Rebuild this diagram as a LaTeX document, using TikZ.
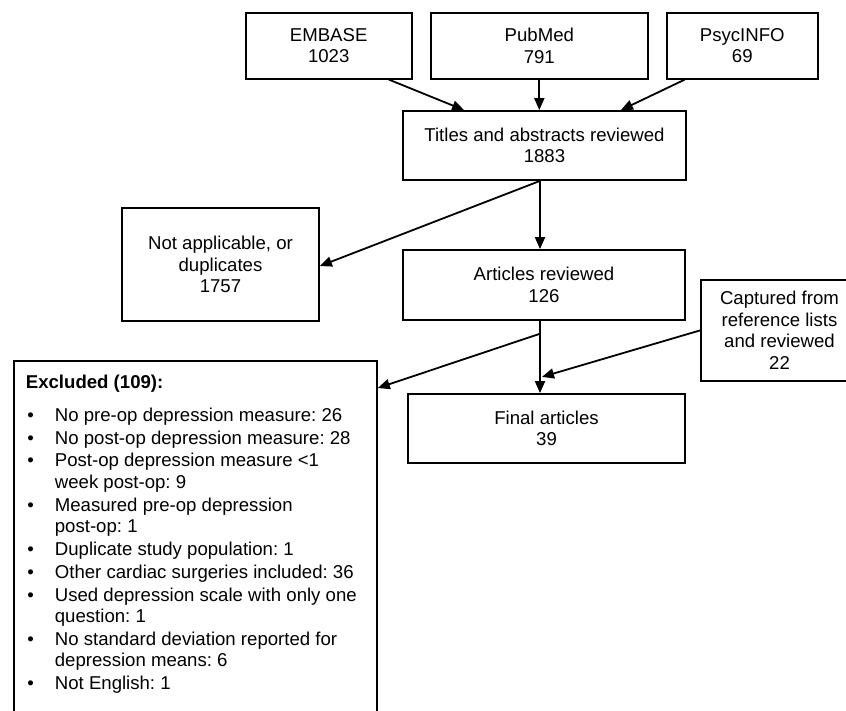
\documentclass[tikz,border=0pt]{standalone}
\usepackage{fontspec}
\setmainfont{Liberation Sans}
\usetikzlibrary{arrows.meta,calc}
\frenchspacing
\newcommand{\xitem}[1]{\par\vspace{1.3pt}\noindent\makebox[29pt][l]{\hspace{1.5pt}•}\mbox{#1}}
\newcommand{\xcont}[1]{\par\noindent\hspace*{29pt}\mbox{#1}}
\begin{document}
\begin{tikzpicture}[x=1pt,y=-1pt,
  box/.style={draw, line width=1.8pt, inner sep=0pt, align=center,
    font=\fontsize{18.6}{21.5}\selectfont},
  arr/.style={line width=1.8pt, -{Triangle[length=12pt,width=10pt]}}]
\useasboundingbox (0,0) rectangle (846,710);
\clip (0,0) rectangle (846,710);
\fill[white] (0,0) rectangle (846,710);
% top sources
\node[box, minimum width=166pt, minimum height=66pt] (emb) at (328.7,45.7) {EMBASE\\1023};
\node[box, minimum width=216.7pt, minimum height=66pt] (pub) at (539.3,45.7) {PubMed\\791};
\node[box, minimum width=151.3pt, minimum height=66pt] (psy) at (742.3,45.7) {PsycINFO\\69};
% titles
\node[box, minimum width=283pt, minimum height=69pt] (tit) at (544.5,145.5) {Titles and abstracts reviewed\\1883};
% not applicable
\node[box, minimum width=197pt, minimum height=113pt] (na) at (220.5,264.5) {Not applicable, or\\duplicates\\1757};
% articles reviewed
\node[box, minimum width=282pt, minimum height=70pt] (art) at (544,285) {Articles reviewed\\126};
% captured
\node[box, minimum width=157pt, minimum height=101pt] (cap) at (779.5,330.4) {Captured from\\reference lists\\and reviewed\\22};
% final
\node[box, minimum width=277pt, minimum height=69pt] (fin) at (546.5,428.5) {Final articles\\39};
% excluded
\node[draw, line width=1.8pt, anchor=north west, inner xsep=12pt, inner ysep=0pt] (excl) at (13,360) {%
\begin{minipage}[t][372pt][t]{339pt}
\fontsize{18.6}{21.5}\selectfont\parskip=0pt\parindent=0pt
\rule{0pt}{27.3pt}\textbf{Excluded (109):}\par\vspace{11.6pt}
\noindent\makebox[29pt][l]{\hspace{1.5pt}•}\mbox{No pre-op depression measure: 26}
\xitem{No post-op depression measure: 28}
\xitem{Post-op depression measure <1}
\xcont{week post-op: 9}
\xitem{Measured pre-op depression}
\xcont{post-op: 1}
\xitem{Duplicate study population: 1}
\xitem{Other cardiac surgeries included: 36}
\xitem{Used depression scale with only one}
\xcont{question: 1}
\xitem{No standard deviation reported for}
\xcont{depression means: 6}
\xitem{Not English: 1}
\end{minipage}};
% helper coordinates
\coordinate (e0) at ($(emb.south east)+(-23.7,0)$);
\coordinate (e1) at ($(tit.north west)+(62,0)$);
\coordinate (p0) at ($(psy.south west)+(19,0)$);
\coordinate (p1) at ($(tit.north east)+(-66,0)$);
\coordinate (t0) at ($(tit.south)+(-4.5,0)$);
\coordinate (n1) at ($(na.east)+(0,1.5)$);
\coordinate (a0) at ($(art.south)+(-4,0)$);
\coordinate (ab) at ($(art.south)+(-4.5,13)$);
\coordinate (x1) at ($(excl.north east)+(0,28)$);
\coordinate (c1) at ($(art.south)+(-2,56)$);
% connectors
\draw[arr] (e0) -- (e1);
\draw[arr] (pub.south) -- (pub.south |- tit.north);
\draw[arr] (p0) -- (p1);
\draw[arr] (t0) -- (t0 |- art.north);
\draw[arr] (t0) -- (n1);
\draw[arr] (a0) -- (a0 |- fin.north);
\draw[arr] (ab) -- (x1);
\draw[arr] (cap.west) -- (c1);
\end{tikzpicture}
\end{document}
